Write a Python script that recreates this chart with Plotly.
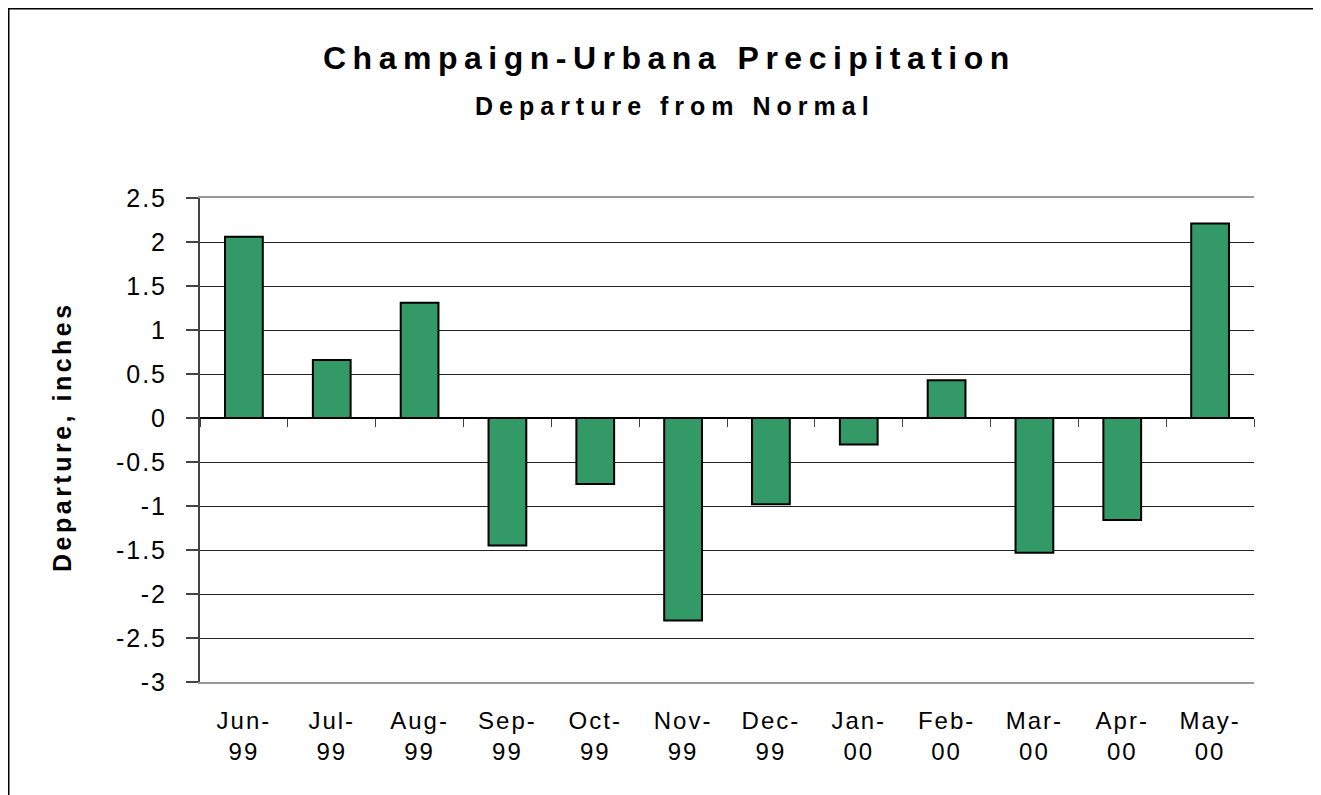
import plotly.graph_objects as go

months = ["Jun-99", "Jul-99", "Aug-99", "Sep-99", "Oct-99", "Nov-99",
          "Dec-99", "Jan-00", "Feb-00", "Mar-00", "Apr-00", "May-00"]
departure = [2.06, 0.66, 1.31, -1.45, -0.75, -2.30, -0.98, -0.30, 0.43, -1.53, -1.16, 2.21]
y_ticks = [2.5, 2, 1.5, 1, 0.5, 0, -0.5, -1, -1.5, -2, -2.5, -3]
y_tick_text = ["2.5", "2", "1.5", "1", "0.5", "0", "-0.5", "-1", "-1.5", "-2", "-2.5", "-3"]


def spaced(txt, px):
    return f'<span style="letter-spacing:{px}px">{txt}</span>'


x_tick_text = [spaced(m.split("-")[0] + "-", 2) + "<br>" + spaced(m.split("-")[1], 2) for m in months]

FONT = "Arial, Liberation Sans, sans-serif"
OFF = 8                      # browser body margin
W, H = 1321 - OFF, 795 - OFF
# target page pixel positions of the plot area
PL, PR, PT, PB = 200, 1254, 198, 682
L, R, T, B = PL - OFF, PR - OFF, PT - OFF, PB - OFF
ymin, ymax = -3, 2.5


def px_x(page_x):
    return (page_x - PL) / (PR - PL)


def px_y(page_y):
    return (PB - page_y) / (PB - PT)


fig = go.Figure()
fig.add_trace(go.Bar(
    x=months, y=departure,
    marker=dict(color="#339966", line=dict(color="#000000", width=2)),
    hoverinfo="x+y", showlegend=False,
))
# invisible trace carrying the category-axis tick marks at zero
fig.add_trace(go.Scatter(x=[0], y=[0], xaxis="x2", mode="markers",
                         marker=dict(opacity=0), hoverinfo="skip", showlegend=False))

fig.update_layout(
    width=W, height=H,
    margin=dict(l=L, r=W - R, t=T, b=H - B, pad=0),
    paper_bgcolor="white", plot_bgcolor="white",
    bargap=0.57,
    font=dict(family=FONT, color="#000000"),
    xaxis=dict(
        type="category", showgrid=False, zeroline=False,
        showline=True, linecolor="#999999", linewidth=2, mirror=True,
        tickmode="array", tickvals=months, ticktext=x_tick_text,
        ticks="", tickfont=dict(size=24, family=FONT), ticklabelstandoff=16,
    ),
    xaxis2=dict(
        overlaying="x", anchor="free", position=(0 - ymin) / (ymax - ymin),
        range=[-0.5, 11.5], tickmode="array",
        tickvals=[i + 0.5 for i in range(-1, 12)],
        ticks="outside", ticklen=8, tickwidth=1, tickcolor="#444444",
        showticklabels=False, showgrid=False, zeroline=False, showline=False,
    ),
    yaxis=dict(
        range=[ymin, ymax], tickmode="array", tickvals=y_ticks,
        ticktext=[spaced(t, 2) for t in y_tick_text],
        showgrid=True, gridcolor="#222222", gridwidth=1,
        zeroline=True, zerolinecolor="#000000", zerolinewidth=1.5,
        showline=True, linecolor="#444444", linewidth=2,
        ticks="outside", ticklen=12, tickwidth=1.5, tickcolor="#444444",
        tickfont=dict(size=25, family=FONT), ticklabelstandoff=14,
    ),
    shapes=[
        # outer chart-area border: only the top and left edges are inside the picture
        dict(type="line", xref="paper", yref="paper",
             x0=px_x(7), x1=px_x(1321), y0=px_y(8), y1=px_y(8),
             line=dict(color="#000000", width=3), layer="below"),
        dict(type="line", xref="paper", yref="paper",
             x0=px_x(8), x1=px_x(8), y0=px_y(7), y1=px_y(795),
             line=dict(color="#000000", width=3), layer="below"),
    ],
    annotations=[
        dict(text="<b>" + spaced("Champaign-Urbana Precipitation", 6.5) + "</b>",
             xref="paper", yref="paper",
             x=px_x(669), y=px_y(58), xanchor="center", yanchor="middle",
             showarrow=False, font=dict(size=32, family=FONT)),
        dict(text="<b>" + spaced("Departure from Normal", 6) + "</b>",
             xref="paper", yref="paper",
             x=px_x(675), y=px_y(106), xanchor="center", yanchor="middle",
             showarrow=False, font=dict(size=25, family=FONT)),
        dict(text="<b>" + spaced("Departure, inches", 3.5) + "</b>",
             xref="paper", yref="paper",
             x=px_x(62), y=px_y(437), xanchor="center", yanchor="middle",
             textangle=-90, showarrow=False, font=dict(size=25, family=FONT)),
    ],
)

fig.write_html("out.html",
               post_script="document.documentElement.style.overflow='hidden';"
                           "document.body.style.overflow='hidden';")
